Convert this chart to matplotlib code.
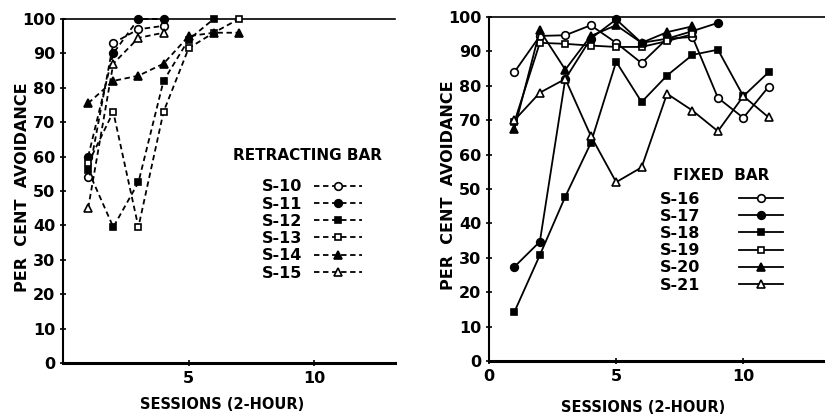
import matplotlib
matplotlib.use("Agg")
import matplotlib.pyplot as plt

plt.rcParams['font.family'] = ['DejaVu Sans']
plt.rcParams['font.weight'] = 'bold'
plt.rcParams['axes.labelweight'] = 'bold'

# ==========================================
# data
# ==========================================
# retracting bar (left panel), sessions start at 1
retract_names = ["S-10", "S-11", "S-12", "S-13", "S-14", "S-15"]
s10 = [54, 93, 97, 98]
s11 = [60, 90, 100, 100]
s12 = [56, 39.5, 52.5, 82, 94, 100]
s13 = [58, 73, 39.5, 73, 91.5, 96, 100]
s14 = [75.5, 82, 83.5, 87, 95, 96, 96]
s15 = [45, 87, 94.5, 96]
retract_data = [s10, s11, s12, s13, s14, s15]

# fixed bar (right panel)
fixed_names = ["S-16", "S-17", "S-18", "S-19", "S-20", "S-21"]
s16 = [84, 94.5, 94.7, 97.6, 92.5, 86.6, 93.7, 94.2, 76.5, 70.7, 79.8]
s17 = [27.4, 34.7, 82, 93.7, 99.3, 92.5, 93.7, 95.9, 98.3]
s18 = [14.3, 30.8, 47.8, 63.3, 87, 75.3, 83, 89, 90.5, 77, 84]
s19 = [69.5, 92.5, 92.2, 91.7, 91.3, 91.3, 93, 95]
s20 = [67.5, 96.1, 84.7, 94.5, 97.6, 92.5, 95.6, 97.3]
s21 = [70, 78, 82, 65.5, 52, 56.3, 77.7, 72.8, 66.8, 77, 70.8]
fixed_data = [s16, s17, s18, s19, s20, s21]

y_ticks = list(range(0, 101, 10))

# marker style per subject: (marker, filled)
styles = [('o', False), ('o', True), ('s', True), ('s', False), ('^', True), ('^', False)]


def draw_panel(ax, names, data, ls, title, title_xy, leg_xy, pad, hlen, xticks, xlab_xy):
    handles = []
    for name, vals, (mk, filled) in zip(names, data, styles):
        x = list(range(1, len(vals) + 1))
        h, = ax.plot(x, vals, linestyle=ls, color='black', lw=1.3,
                     marker=mk, markersize=5.5 if mk != 's' else 5,
                     markerfacecolor='black' if filled else 'white',
                     markeredgecolor='black', markeredgewidth=1.2,
                     dashes=(3, 2) if ls == '--' else (None, None),
                     clip_on=False, zorder=3, label=name)
        handles.append(h)

    ax.set_xlim(0, 13.2)
    ax.set_ylim(0, 100)
    ax.set_yticks(y_ticks)
    ax.set_xticks(xticks)
    ax.spines['right'].set_visible(False)
    ax.spines['top'].set_linewidth(1.2)
    ax.spines['left'].set_linewidth(1.5)
    ax.spines['bottom'].set_linewidth(2.2)
    ax.tick_params(direction='inout', length=5, width=1.2, labelsize=11.5, pad=3)
    ax.set_xlabel('SESSIONS (2-HOUR)', fontsize=10.5, fontweight='bold', va='center')
    ax.xaxis.set_label_coords(*xlab_xy)
    ax.set_ylabel('PER  CENT  AVOIDANCE', fontsize=11.5, fontweight='bold', va='center')
    ax.yaxis.set_label_coords(-0.122, 0.51)

    ax.text(title_xy[0], title_xy[1], title, transform=ax.transAxes,
            ha='center', va='center', fontsize=11, fontweight='bold')
    ax.legend(handles=handles, loc='upper center',
              bbox_to_anchor=leg_xy, frameon=False, markerfirst=False,
              fontsize=11.5, handlelength=hlen,
              handletextpad=pad, labelspacing=0.14, borderpad=0)


fig = plt.figure(figsize=(8.25, 4.15), dpi=100)
ax1 = fig.add_axes([0.0764, 0.1253, 0.402, 0.829])
ax2 = fig.add_axes([0.5927, 0.130, 0.407, 0.829])

draw_panel(ax1, retract_names, retract_data, '--', 'RETRACTING BAR',
           (0.738, 0.602), (0.75, 0.557), 0.7, 3.0, [5, 10], (0.48, -0.122))
draw_panel(ax2, fixed_names, fixed_data, '-', 'FIXED  BAR',
           (0.693, 0.538), (0.693, 0.516), 2.4, 2.8, [0, 5, 10], (0.458, -0.134))

fig.savefig('out.png', dpi=100)
